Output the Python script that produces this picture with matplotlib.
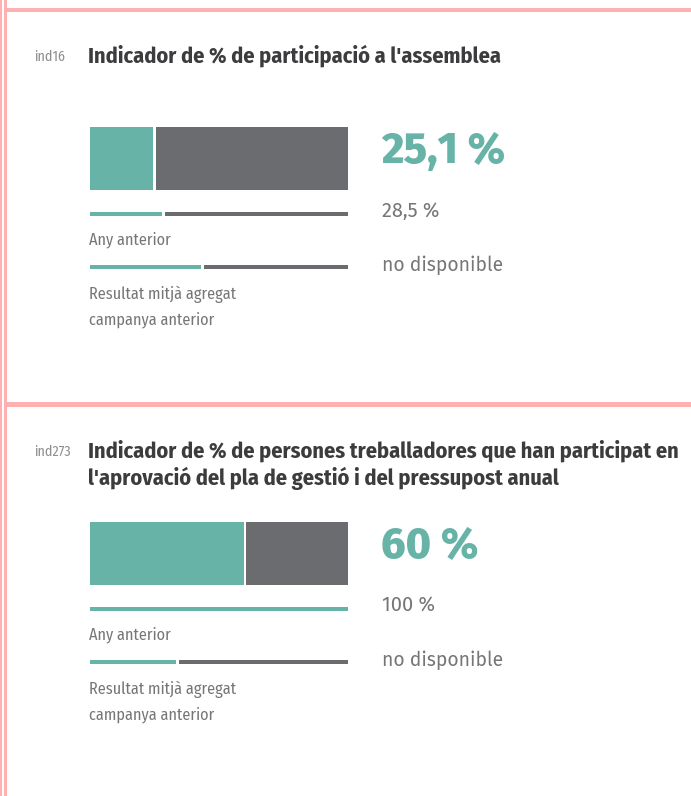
import matplotlib
matplotlib.use("Agg")
import matplotlib.pyplot as plt
from matplotlib import font_manager as fm

# ---------------- data ----------------
codes = ["ind16", "ind273"]
titles = [
    ["Indicador de % de participació a l'assemblea"],
    ["Indicador de % de persones treballadores que han participat en",
     "l'aprovació del pla de gestió i del pressupost anual"],
]
values = [25.1, 60.0]            # current value (%)
value_labels = ["25,1 %", "60 %"]
previous = [28.5, 100.0]         # any anterior (%)
previous_labels = ["28,5 %", "100 %"]
aggregate = [43.5, 34.0]         # resultat mitjà agregat (line as drawn)
aggregate_labels = ["no disponible", "no disponible"]
label_prev = "Any anterior"
label_agg = ["Resultat mitjà agregat", "campanya anterior"]

# ---------------- style ----------------
W, H = 691, 796
TEAL = "#67b3a8"
GRAY = "#6b6c70"
PINK = "#ffb0b0"
TITLE_C = "#3c3c3e"
TEXT_C = "#767676"
CODE_C = "#8e8e8e"
GAP = 1.0   # gap between teal and gray parts, in % units

avail = {f.name for f in fm.fontManager.ttflist}
def pick(cands):
    for c in cands:
        if c in avail:
            return c
    return "DejaVu Sans"

COND = pick(["Fira Sans Condensed", "Roboto Condensed", "Liberation Sans Narrow",
             "DejaVu Sans Condensed", "Open Sans Condensed", "Roboto"])
BODY = pick(["Fira Sans", "Roboto", "Open Sans", "Lato"])

fig = plt.figure(figsize=(W / 100, H / 100), dpi=100)
fig.patch.set_facecolor("white")

def px(x, y):
    return x / W, 1 - y / H

def ftext(x, y, s, **kw):
    fx, fy = px(x, y)
    fig.text(fx, fy, s, **kw)

def pt(pxsize):
    return pxsize * 72 / 100

# background axes for frame lines (pixel coordinates)
bg = fig.add_axes([0, 0, 1, 1])
bg.set_xlim(0, W)
bg.set_ylim(H, 0)
bg.axis("off")
bg.fill_between([0, 1.6], 0, H, color=PINK, lw=0)
bg.fill_between([4.2, 6.6], 0, H, color=PINK, lw=0)
bg.fill_between([6.6, W], 8, 12.3, color=PINK, lw=0)
bg.fill_between([6.6, W], 402, 406.5, color=PINK, lw=0)

BAR_X0, BAR_X1 = 90, 348
for i in range(2):
    off = 395 * i
    # code and title
    ftext(34, 57 + off, codes[i], fontsize=pt(14), color=CODE_C, family=COND,
          va="center", ha="left")
    for j, line in enumerate(titles[i]):
        ftext(88, 56 + off + 27 * j, line, fontsize=pt(22.3), color=TITLE_C,
              family=COND, fontweight="bold", va="center", ha="left")

    # bar axes in % units horizontally, pixel units vertically
    top, bot = 120 + off, 275 + off
    l, b = BAR_X0 / W, 1 - bot / H
    ax = fig.add_axes([l, b, (BAR_X1 - BAR_X0) / W, (bot - top) / H])
    ax.set_xlim(0, 100)
    ax.set_ylim(bot, top)
    ax.axis("off")

    rows = [(158.5 + off, 63, values[i]),
            (214 + off, 4, previous[i]),
            (267 + off, 4, aggregate[i])]
    for yc, hh, v in rows:
        tw = v if v >= 100 else v - GAP / 2
        ax.barh(yc, tw, left=0, height=hh, color=TEAL, linewidth=0)
        if 100 - v > 0:
            ax.barh(yc, 100 - v - GAP / 2, left=v + GAP / 2, height=hh,
                    color=GRAY, linewidth=0)

    # right-hand numbers
    ftext(381, 152 + off, value_labels[i], fontsize=pt(43), color=TEAL,
          family=BODY, fontweight="heavy", va="center", ha="left")
    ftext(382, 211 + off, previous_labels[i], fontsize=pt(20), color=TEXT_C,
          family=BODY, va="center", ha="left")
    ftext(382, 265 + off, aggregate_labels[i], fontsize=pt(19.3), color=TEXT_C,
          family=BODY, va="center", ha="left")

    # labels below lines
    ftext(89, 240 + off, label_prev, fontsize=pt(16.2), color=TEXT_C,
          family=COND, va="center", ha="left")
    ftext(89, 294 + off, label_agg[0], fontsize=pt(16.2), color=TEXT_C,
          family=COND, va="center", ha="left")
    ftext(89, 320 + off, label_agg[1], fontsize=pt(16.2), color=TEXT_C,
          family=COND, va="center", ha="left")

fig.savefig("out.png", dpi=100, facecolor="white")
